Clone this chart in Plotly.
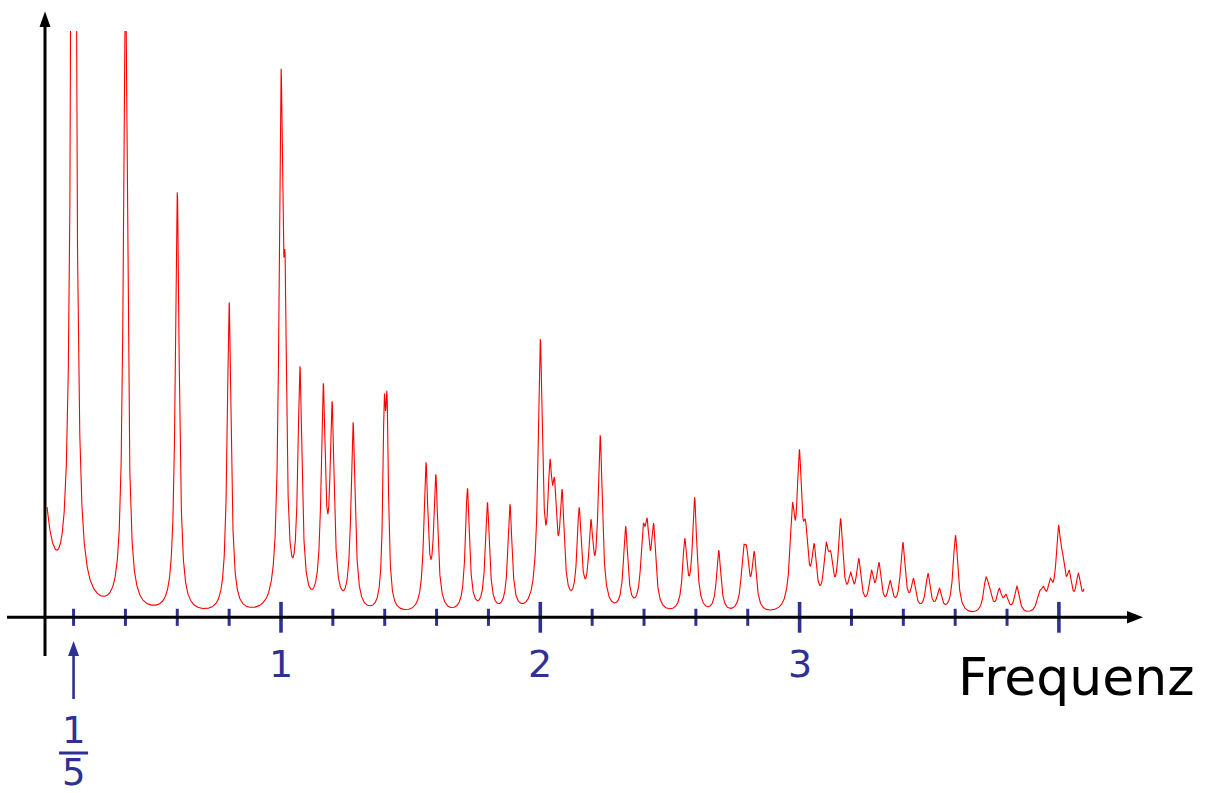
import numpy as np
import plotly.graph_objects as go

# ---------------- data ----------------
# spectral peaks: centre frequency, value of the curve at the peak, half width
peak_freq = [0.05, 0.2, 0.4, 0.6, 0.8, 1.0, 1.016, 1.073, 1.163, 1.197, 1.278, 1.398, 1.409,
             1.559, 1.597, 1.719, 1.796, 1.883, 2.0, 2.037, 2.055, 2.084, 2.150, 2.195, 2.231,
             2.329, 2.396, 2.412, 2.437, 2.557, 2.595, 2.688, 2.783, 2.796, 2.825, 2.972, 2.999,
             3.023, 3.056, 3.102, 3.120, 3.158, 3.197, 3.228, 3.277, 3.306, 3.349, 3.398, 3.439,
             3.495, 3.539, 3.601, 3.718, 3.732, 3.770, 3.796, 3.838, 3.924, 3.940, 3.966, 3.998,
             4.015, 4.040, 4.075, 4.110]
peak_height = [310, 1400, 650, 425, 315, 548, 360, 251, 234, 216, 195, 221, 224,
               155, 143, 129, 115, 113, 278, 158, 139, 128, 110, 98, 182,
               91, 93, 99, 94, 79, 120, 67, 71, 71, 66, 114, 168,
               97, 74, 75, 66, 99, 45, 59, 47, 55, 37, 75, 39,
               44, 29, 82, 40, 32, 29, 23, 31, 26, 31, 39, 92,
               64, 47, 44, 50]
peak_width = [0.033, 0.009, 0.009, 0.009, 0.009, 0.009, 0.0068, 0.0095, 0.0095, 0.0095, 0.0095, 0.0065, 0.0065,
              0.0095, 0.0095, 0.0095, 0.0095, 0.0095, 0.010, 0.010, 0.010, 0.010, 0.010, 0.010, 0.010,
              0.010, 0.010, 0.010, 0.010, 0.010, 0.010, 0.010, 0.010, 0.010, 0.010, 0.011, 0.011,
              0.011, 0.011, 0.011, 0.011, 0.011, 0.011, 0.011, 0.011, 0.011, 0.011, 0.011, 0.011,
              0.011, 0.011, 0.011, 0.011, 0.011, 0.011, 0.011, 0.011, 0.011, 0.011, 0.011, 0.011,
              0.011, 0.011, 0.011, 0.011]
freq_start, freq_end = 0.0976, 4.097

minor_ticks = [0.2, 0.4, 0.6, 0.8, 1.2, 1.4, 1.6, 1.8, 2.2, 2.4, 2.6, 2.8, 3.2, 3.4, 3.6, 3.8]
major_ticks = [1, 2, 3, 4]
major_labels = ["1", "2", "3"]
marked_freq = 0.2
marked_num, marked_den = "1", "5"
axis_title = "Frequenz"

# ---------------- build spectrum (sum of Lorentzian lines) ----------------
xc = np.array(peak_freq)
hc = np.array(peak_height, dtype=float)
gc = np.array(peak_width)


def lor(x, c, g):
    return g ** 2 / ((x - c) ** 2 + g ** 2)


M = lor(xc[:, None], xc[None, :], gc[None, :])
active = np.ones(len(xc), bool)
amp = np.zeros(len(xc))
for _ in range(10):
    sub = np.linalg.solve(M[np.ix_(active, active)], hc[active])
    amp[:] = 0
    amp[active] = sub
    if (sub >= 0).all():
        break
    idx = np.where(active)[0][sub < 0]
    active[idx] = False
amp = np.clip(amp, 0, None)

fx = np.linspace(freq_start, freq_end, 12001)
fy = (amp[None, :] * lor(fx[:, None], xc[None, :], gc[None, :])).sum(axis=1)

# ---------------- figure ----------------
W, H, T = 1213, 793, 31
NAVY = "#2e3192"
PX0, PXU = 21.7, 259.3          # pixel of f=0, pixels per unit
PY0 = 617.3                     # pixel of the baseline
xr = [-PX0 / PXU, (W - PX0) / PXU]
yr = [PY0 - H, PY0 - T]


def xp(px):
    return px / W


def yp(py):
    return (H - py) / (H - T)


fig = go.Figure()
fig.add_trace(go.Scatter(x=fx, y=fy, mode="lines", line=dict(color="#ff0000", width=1.1),
                         hoverinfo="skip", showlegend=False))
fig.add_trace(go.Scatter(x=minor_ticks, y=[0] * len(minor_ticks), mode="markers",
                         marker=dict(symbol="line-ns", size=12.2, line=dict(color=NAVY, width=3)),
                         hoverinfo="skip", showlegend=False))
fig.add_trace(go.Scatter(x=major_ticks, y=[0] * len(major_ticks), mode="markers",
                         marker=dict(symbol="line-ns", size=22, line=dict(color=NAVY, width=3.6)),
                         hoverinfo="skip", showlegend=False))

shapes = []
# x axis
shapes.append(dict(type="line", xref="paper", yref="paper", x0=xp(7), x1=xp(1130),
                   y0=yp(PY0), y1=yp(PY0), line=dict(color="black", width=3)))
shapes.append(dict(type="path", xref="paper", yref="paper",
                   path=f"M{xp(1143)},{yp(PY0)} L{xp(1127)},{yp(PY0-6.3)} L{xp(1127)},{yp(PY0+6.3)} Z",
                   fillcolor="black", line=dict(width=0)))
# y axis
shapes.append(dict(type="line", xref="paper", yref="paper", x0=xp(45), x1=xp(45),
                   y0=yp(656), y1=yp(25), line=dict(color="black", width=3)))
shapes.append(dict(type="path", xref="paper", yref="paper",
                   path=f"M{xp(45)},{yp(11.5)} L{xp(39.5)},{yp(27)} L{xp(50.5)},{yp(27)} Z",
                   fillcolor="black", line=dict(width=0)))
# marker arrow at 1/5
mx = PX0 + PXU * marked_freq
shapes.append(dict(type="line", xref="paper", yref="paper", x0=xp(mx), x1=xp(mx),
                   y0=yp(699), y1=yp(652), line=dict(color=NAVY, width=2.6)))
shapes.append(dict(type="path", xref="paper", yref="paper",
                   path=f"M{xp(mx)},{yp(641)} L{xp(mx-5.5)},{yp(656)} L{xp(mx+5.5)},{yp(656)} Z",
                   fillcolor=NAVY, line=dict(width=0)))
shapes.append(dict(type="line", xref="paper", yref="paper", x0=xp(mx - 14.5), x1=xp(mx + 14.5),
                   y0=yp(753), y1=yp(753), line=dict(color=NAVY, width=3)))

ann = []
FONT = "DejaVu Sans"
for v, lab in zip(major_ticks, major_labels):
    ann.append(dict(x=v, y=PY0 - 664, xref="x", yref="y", text=lab, showarrow=False,
                    font=dict(family=FONT, size=38, color=NAVY), xanchor="center", yanchor="middle"))
ann.append(dict(x=marked_freq, y=PY0 - 730, xref="x", yref="y", text=marked_num, showarrow=False,
                font=dict(family=FONT, size=37, color=NAVY), xanchor="center", yanchor="middle"))
ann.append(dict(x=marked_freq, y=PY0 - 772, xref="x", yref="y", text=marked_den, showarrow=False,
                font=dict(family=FONT, size=37, color=NAVY), xanchor="center", yanchor="middle"))
ann.append(dict(x=xp(1076), y=yp(677), xref="paper", yref="paper", text=axis_title, showarrow=False,
                font=dict(family=FONT, size=52, color="black"), xanchor="center", yanchor="middle"))

fig.update_layout(
    width=W, height=H, margin=dict(l=0, r=0, t=T, b=0, pad=0),
    paper_bgcolor="white", plot_bgcolor="white",
    xaxis=dict(range=xr, visible=False, fixedrange=True),
    yaxis=dict(range=yr, visible=False, fixedrange=True),
    shapes=shapes, annotations=ann, showlegend=False,
)
fig.write_html("out.html", post_script="document.body.style.margin='0';document.body.style.overflow='hidden';",
               config={"displayModeBar": False})
